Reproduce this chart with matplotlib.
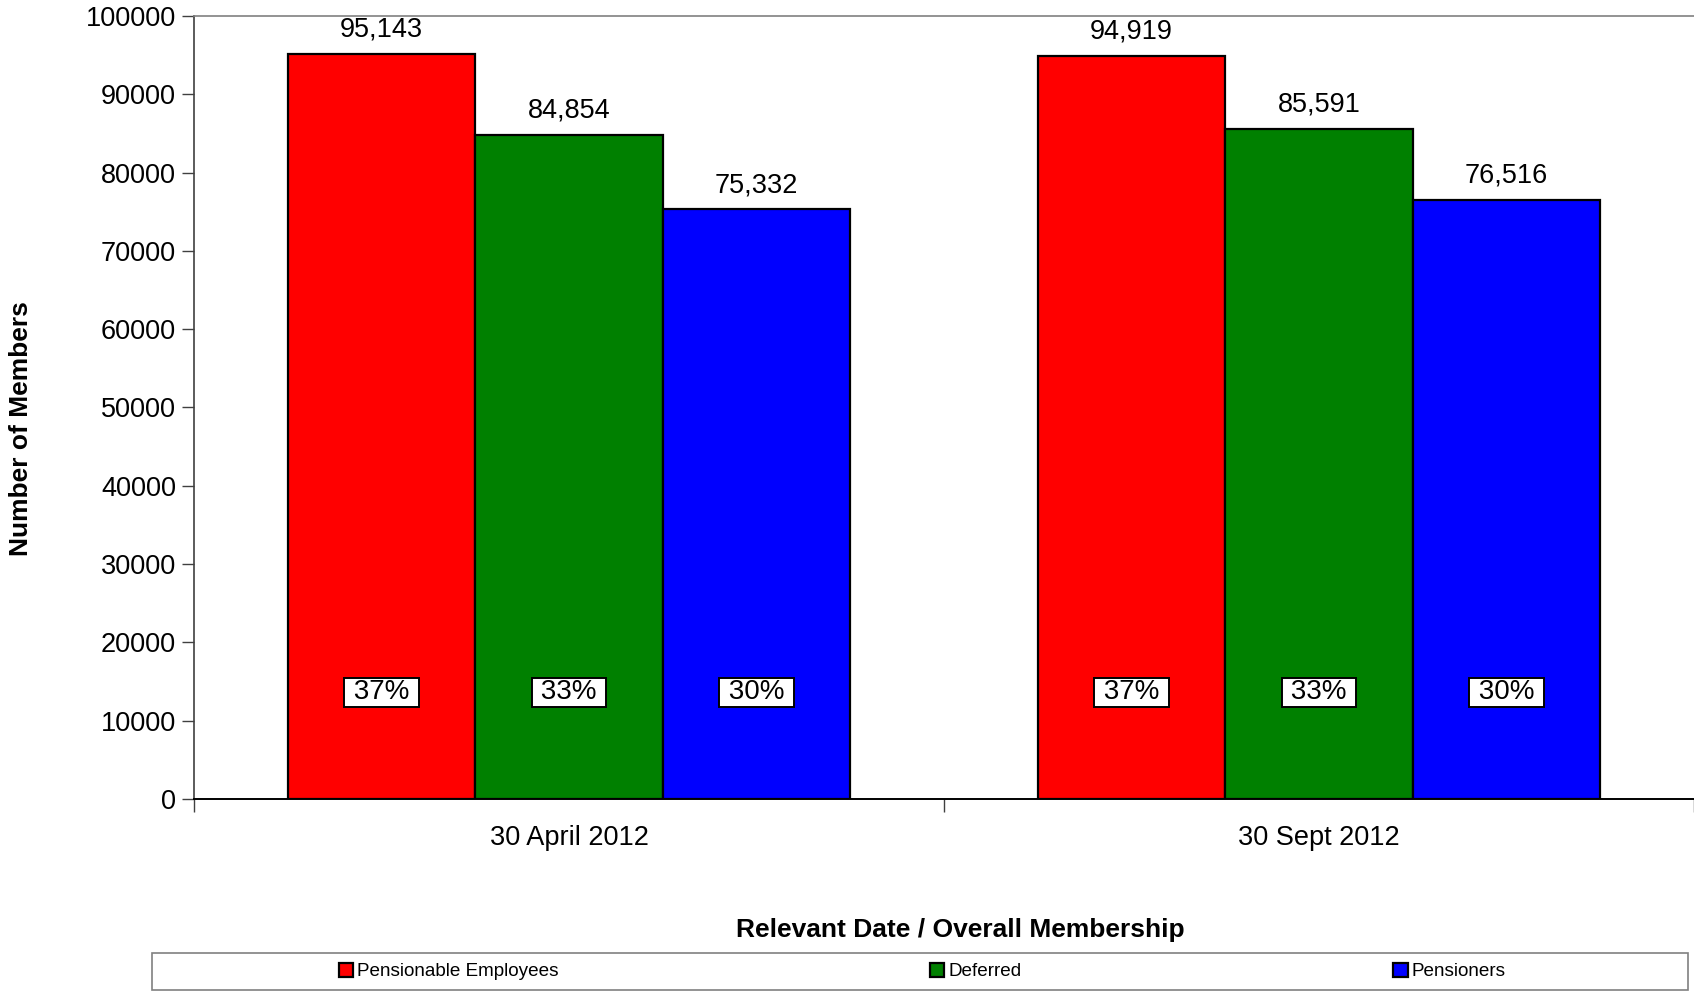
import numpy as np
import matplotlib
matplotlib.use("Agg")
import matplotlib.pyplot as plt
from matplotlib.patches import Rectangle

plt.rcParams["font.family"] = ["Liberation Sans", "DejaVu Sans"]

dates = ["30 April 2012", "30 Sept 2012"]
series = ["Pensionable Employees", "Deferred", "Pensioners"]
employees = [95143, 94919]
deferred = [84854, 85591]
pensioners = [75332, 76516]
colors = ["#FF0000", "#008000", "#0000FF"]

values = np.array([employees, deferred, pensioners], float)
shares = values / values.sum(axis=0)

fig = plt.figure(figsize=(16.94, 9.92), dpi=100)
ax = fig.add_axes([0.1145, 0.1946, 0.8855, 0.7893])

x = np.arange(len(dates))
w = 0.25
for i, (name, col) in enumerate(zip(series, colors)):
    pos = x + (i - 1) * w
    bars = ax.bar(pos, values[i], width=w, color=col, edgecolor="black",
                  linewidth=1.6, label=name, zorder=2)
    for b, v, s in zip(bars, values[i], shares[i]):
        cx = b.get_x() + b.get_width() / 2
        ax.annotate("{:,.0f}".format(v), (cx, v), xytext=(0, 8),
                    textcoords="offset points", ha="center", va="bottom",
                    fontsize=19.5)
        ax.annotate(" {:.0f}% ".format(s * 100), (cx, 13800),
                    xytext=(0, -1), textcoords="offset points",
                    ha="center", va="center", fontsize=20, zorder=3,
                    bbox=dict(boxstyle="square,pad=0.06", fc="white",
                              ec="black", lw=1.4))

ax.set_xlim(-0.5, 1.5)
ax.set_ylim(0, 100000)
ax.set_yticks(np.arange(0, 100001, 10000))
ax.set_yticklabels([str(v) for v in range(0, 100001, 10000)])
ax.set_xticks([-0.5, 0.5, 1.5])
ax.set_xticklabels([])
ax.set_xticks(x, minor=True)
ax.set_xticklabels(dates, minor=True)
ax.tick_params(axis="x", which="major", direction="out", length=9,
               width=1, color="#404040")
ax.tick_params(axis="x", which="minor", length=0, pad=19, labelsize=19.5)
ax.tick_params(axis="y", direction="out", length=9, width=1,
               color="#404040", labelsize=19.5, pad=4)

ax.spines["right"].set_visible(False)
ax.spines["top"].set_color("#808080")
ax.spines["top"].set_linewidth(1.2)
ax.spines["left"].set_color("#404040")
ax.spines["left"].set_linewidth(1.2)
ax.spines["bottom"].set_color("black")
ax.spines["bottom"].set_linewidth(1.4)

fig.text(0.567, 0.062, "Relevant Date / Overall Membership", ha="center",
         va="center", fontsize=19, fontweight="bold")
fig.text(0.0125, 0.5675, "Number of Members", ha="center", va="center",
         rotation=90, fontsize=19, fontweight="bold")

# legend box spans the width under the plot
fig.add_artist(Rectangle((0.0897, 0.002), 0.9068, 0.0373,
                         transform=fig.transFigure, fill=False,
                         ec="#808080", lw=1.2))
handles, labels = ax.get_legend_handles_labels()
fig.legend(handles, labels, ncol=3, frameon=False, loc="center",
           bbox_to_anchor=(0.5443, 0.0207), fontsize=13.6,
           columnspacing=19.7, handlelength=0.75, handleheight=0.75,
           handletextpad=0.2)

fig.savefig("out.png", dpi=100)
